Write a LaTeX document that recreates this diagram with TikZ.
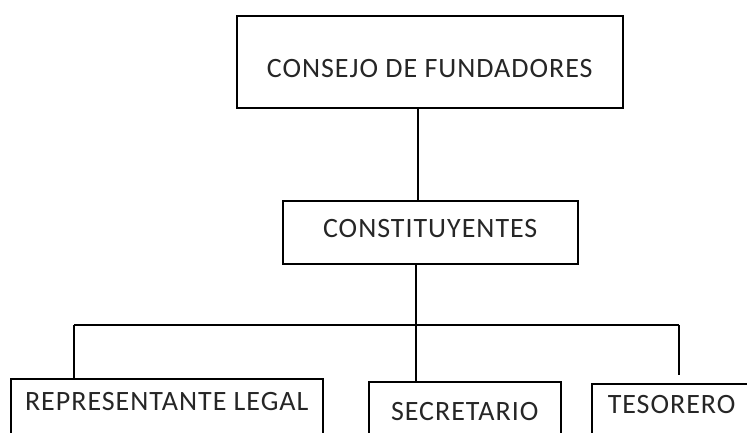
\documentclass[tikz,border=0pt]{standalone}
\usepackage{fontspec}
\setmainfont{Carlito}[LetterSpace=3.5]
\begin{document}
\begin{tikzpicture}[x=1pt,y=-1pt,
  orgbox/.style={draw=black, line width=1.5pt, anchor=north west, inner xsep=0pt,
    font=\fontsize{28}{30}\selectfont, text=black!85},
  conn/.style={draw=black, line width=1.5pt}]
\useasboundingbox (0,0) rectangle (747,432);
\clip (0,0) rectangle (747,432);
\node[orgbox, minimum width=386pt, text height=34pt, text depth=2pt, inner ysep=28pt] (top) at (236,15) {CONSEJO DE FUNDADORES};
\node[orgbox, minimum width=295pt, text height=19pt, text depth=8pt, inner ysep=18pt] (cons) at (282,200) {CONSTITUYENTES};
\node[orgbox, minimum width=312pt, text height=18pt, text depth=60pt, inner ysep=14pt] (rep) at (10,378) {REPRESENTANTE LEGAL};
\node[orgbox, minimum width=192pt, text height=19pt, text depth=60pt, inner ysep=20pt] (sec) at (368,381) {SECRETARIO};
\node[orgbox, text width=164pt, align=left, inner xsep=16pt, text height=18pt, text depth=60pt, inner ysep=12pt] (tes) at (591,383) {TESORERO};
\coordinate (jTop) at (418,0);
\coordinate (jMid) at (416,0);
\coordinate (busL) at (74,325);
\coordinate (busM) at (416,325);
\coordinate (busR) at (679,325);
\coordinate (tesEnd) at (679,375);
\draw[conn] (top.south -| jTop) -- (cons.north -| jTop);
\draw[conn] (cons.south -| jMid) -- (busM);
\draw[conn] (busL) -- (busR);
\draw[conn] (busL) -- (rep.north -| busL);
\draw[conn] (busM) -- (sec.north -| busM);
\draw[conn] (busR) -- (tesEnd);
\end{tikzpicture}
\end{document}
